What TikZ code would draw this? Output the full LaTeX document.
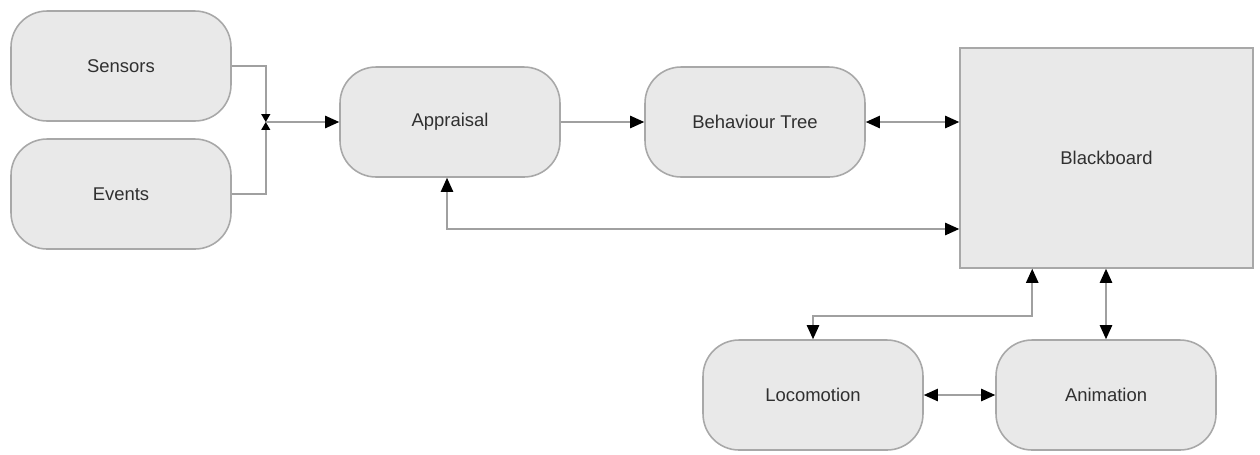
\documentclass[tikz,border=0pt]{standalone}
\usepackage{fontspec}
\setmainfont{Liberation Sans}
\usetikzlibrary{arrows.meta,calc}
\definecolor{boxfill}{HTML}{E9E9E9}
\definecolor{boxline}{HTML}{A8A8A8}
\definecolor{wire}{HTML}{A0A0A0}
\definecolor{label}{HTML}{303030}
\begin{document}
\begin{tikzpicture}[x=0.02cm,y=-0.02cm,
  roundbox/.style={draw=boxline, fill=boxfill, line width=0.9pt,
    rounded corners=0.72cm, minimum width=4.4cm, minimum height=2.2cm,
    font=\fontsize{10.5}{12}\selectfont, text=label},
  squarebox/.style={draw=boxline, fill=boxfill, line width=0.9pt,
    minimum width=5.86cm, minimum height=4.4cm,
    font=\fontsize{10.5}{12}\selectfont, text=label},
  wireline/.style={draw=wire, line width=0.9pt},
  tip/.tip={Triangle[length=8pt,width=7pt,black]},
  smalltip/.tip={Triangle[length=4.5pt,width=5pt,black]}]
  \useasboundingbox (0,0) rectangle (1260,454);

  % nodes
  \node[roundbox] (sensors)   at (121,66)  {Sensors};
  \node[roundbox] (events)    at (121,194) {Events};
  \node[roundbox] (appraisal) at (450,122) {Appraisal};
  \node[roundbox] (btree)     at (755,122) {Behaviour Tree};
  \node[squarebox] (bb)       at (1106.5,158) {Blackboard};
  \node[roundbox] (loco)      at (813,395) {Locomotion};
  \node[roundbox] (anim)      at (1106,395) {Animation};

  % merge point of the two inputs, level with Appraisal
  \coordinate (mx) at ($(sensors.east)+(34,0)$);
  \coordinate (merge) at (mx |- appraisal.west);

  % connectors
  \draw[wireline,-smalltip] (sensors.east) -| (merge);
  \draw[wireline,-smalltip] (events.east) -| (merge);
  \draw[wireline,-tip] (merge) -- (appraisal.west);
  \draw[wireline,-tip] (appraisal.east) -- (btree.west);
  \draw[wireline,tip-tip] (btree.east) -- (btree.east -| bb.west);
  \draw[wireline,tip-tip] ([xshift=-0.06cm]appraisal.south) |- ($(bb.west)+(0,71)$);
  \draw[wireline,tip-tip] ([xshift=1.46cm]bb.south west) -- ++(0,47) -| (loco.north);
  \draw[wireline,tip-tip] (anim.north) -- (anim.north |- bb.south);
  \draw[wireline,tip-tip] (loco.east) -- (anim.west);
\end{tikzpicture}
\end{document}
